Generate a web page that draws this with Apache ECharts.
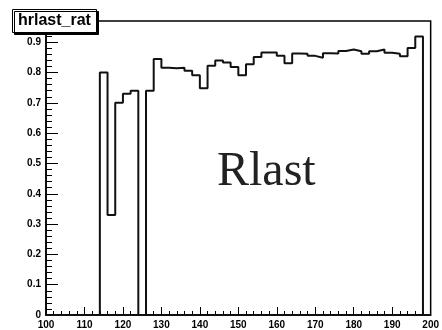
<!DOCTYPE html>
<html><head><meta charset="utf-8">
<script src="https://cdn.jsdelivr.net/npm/echarts@6/dist/echarts.min.js"></script>
<style>html,body{margin:0;padding:0;background:#fff}#c{width:442px;height:330px}</style>
</head><body><div id="c"></div>
<script>
// Histogram hrlast_rat: 50 bins of width 2 from 100 to 200
const histName = 'hrlast_rat';
const overlayText = 'Rlast';
const binStart = 100;
const binWidth = 2;
const binValues = [
  0, 0, 0, 0, 0, 0, 0,              // 100..112
  0.80, 0.33, 0.70, 0.73, 0.74,     // 114..122
  0, 0.74, 0.845,                   // 124..128
  0.816, 0.814, 0.816, 0.806, 0.791, // 130..138
  0.748, 0.822, 0.840, 0.833, 0.818, // 140..148
  0.791, 0.827, 0.851, 0.866, 0.866, // 150..158
  0.855, 0.831, 0.863, 0.862, 0.855, // 160..168
  0.849, 0.864, 0.863, 0.871, 0.876, // 170..178
  0.870, 0.862, 0.870, 0.876, 0.865, // 180..188
  0.862, 0.854, 0.881, 0.919, 0     // 190..198
];
const xRange = [100, 200];
const xStep = 10;
const yRange = [0, 0.97];
const yStep = 0.1;
const yMinorStep = 0.02;

const stepData = binValues.map((v, i) => [binStart + i * binWidth, v]);
stepData.push([binStart + binValues.length * binWidth, 0]);

const labelFont = { fontFamily: 'Liberation Sans, Arial, sans-serif', fontWeight: 'bold', fontSize: 10, color: '#000' };

const chart = echarts.init(document.getElementById('c'), null, { renderer: 'canvas' });
chart.setOption({
  animation: false,
  backgroundColor: '#fff',
  title: {
    text: histName, left: 12, top: 9, padding: [4, 6],
    backgroundColor: '#fff', borderColor: '#000', borderWidth: 1,
    shadowColor: '#000', shadowOffsetX: 2, shadowOffsetY: 2, shadowBlur: 0,
    textStyle: { fontFamily: 'Liberation Sans, Arial, sans-serif', fontWeight: 'bold', fontSize: 16, color: '#000' }
  },
  grid: { left: 46, right: 5, top: 21, bottom: 12, show: true, borderColor: '#000', borderWidth: 1.5, backgroundColor: 'transparent' },
  xAxis: {
    type: 'value', min: xRange[0], max: xRange[1], interval: xStep,
    axisLine: { lineStyle: { color: '#000', width: 1.5 } },
    axisTick: { inside: true, length: 8, lineStyle: { color: '#000', width: 1 } },
    minorTick: { show: true, splitNumber: 5, length: 4, lineStyle: { color: '#000', width: 1 } },
    splitLine: { show: false },
    axisLabel: Object.assign({ margin: 5 }, labelFont)
  },
  yAxis: [{
    type: 'value', min: yRange[0], max: yRange[1], interval: yStep,
    axisLine: { lineStyle: { color: '#000', width: 1.5 } },
    axisTick: { inside: true, length: 12, lineStyle: { color: '#000', width: 1 } },
    splitLine: { show: false },
    axisLabel: Object.assign({ margin: 5, showMaxLabel: false }, labelFont)
  }, {
    type: 'value', min: yRange[0], max: yRange[1], interval: yMinorStep, position: 'left',
    axisLine: { show: false },
    axisTick: { inside: true, length: 6, lineStyle: { color: '#000', width: 1 } },
    splitLine: { show: false },
    axisLabel: { show: false }
  }],
  graphic: [{
    type: 'text', left: 217, top: 148, z: 10,
    style: { text: overlayText, font: '48px "Liberation Serif", "Times New Roman", serif', fill: '#222' }
  }],
  series: [{
    type: 'line', step: 'end', data: stepData, yAxisIndex: 0,
    symbol: 'none', lineStyle: { color: '#111', width: 2 }
  }]
});
</script></body></html>
